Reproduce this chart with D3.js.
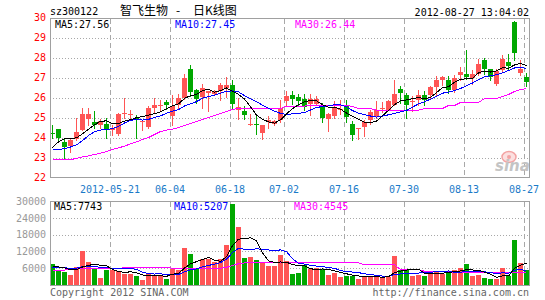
<!DOCTYPE html>
<html><head><meta charset="utf-8">
<script src="https://cdn.jsdelivr.net/npm/d3@7"></script>
<style>
body{margin:0;background:#fff}
svg{display:block}
text{font-family:"DejaVu Sans Mono",monospace;font-size:10px}
</style>
</head><body>
<svg id="c" width="545" height="300"></svg>
<script>
// ---------- data ----------
const dates = [
"2012-05-07","2012-05-08","2012-05-09","2012-05-10","2012-05-11",
"2012-05-14","2012-05-15","2012-05-16","2012-05-17","2012-05-18",
"2012-05-21","2012-05-22","2012-05-23","2012-05-24","2012-05-25",
"2012-05-28","2012-05-29","2012-05-30","2012-05-31","2012-06-01",
"2012-06-04","2012-06-05","2012-06-06","2012-06-07","2012-06-08",
"2012-06-11","2012-06-12","2012-06-13","2012-06-14","2012-06-15",
"2012-06-18","2012-06-19","2012-06-20","2012-06-21",
"2012-06-25","2012-06-26","2012-06-27","2012-06-28","2012-06-29",
"2012-07-02","2012-07-03","2012-07-04","2012-07-05","2012-07-06",
"2012-07-09","2012-07-10","2012-07-11","2012-07-12","2012-07-13",
"2012-07-16","2012-07-17","2012-07-18","2012-07-19","2012-07-20",
"2012-07-23","2012-07-24","2012-07-25","2012-07-26","2012-07-27",
"2012-07-30","2012-07-31","2012-08-01","2012-08-02","2012-08-03",
"2012-08-06","2012-08-07","2012-08-08","2012-08-09","2012-08-10",
"2012-08-13","2012-08-14","2012-08-15","2012-08-16","2012-08-17",
"2012-08-20","2012-08-21","2012-08-22","2012-08-23","2012-08-24",
"2012-08-27"];

const open = [24.22,24.42,23.78,23.58,23.95,24.4,24.93,24.77,24.63,24.67,
24.37,24.2,25.17,25.12,25.0,24.77,24.53,25.5,25.55,25.78,
25.05,25.62,26.0,27.45,26.37,26.03,26.25,26.2,26.3,26.48,
26.62,25.37,25.33,24.63,24.67,24.23,24.78,24.67,24.85,25.82,
26.12,26.03,25.95,25.7,25.68,25.62,24.95,25.05,25.38,25.6,
24.67,24.47,24.53,24.9,25.03,25.48,25.4,25.62,26.45,26.1,
25.77,25.85,26.12,26.12,26.53,26.85,26.87,26.37,27.12,27.17,
27.0,27.2,27.87,27.42,26.7,27.37,27.78,29.78,27.25,27.03];

const high = [24.62,24.45,24.0,23.92,25.0,25.5,25.5,25.33,24.92,25.0,
24.6,25.22,26.0,25.35,25.1,24.8,25.55,26.0,25.9,25.9,
26.1,26.2,27.17,27.6,26.45,26.7,26.3,26.35,26.72,27.03,
26.85,26.0,25.55,25.2,25.1,24.65,25.05,24.9,25.9,26.3,
26.3,26.2,26.17,26.2,26.05,25.75,25.22,25.8,25.85,25.85,
24.83,24.5,24.9,25.37,25.82,25.78,25.9,26.87,26.55,26.22,
26.05,26.35,26.32,26.55,27.07,27.05,27.08,27.12,27.53,28.37,
27.37,27.95,27.98,27.45,27.45,28.1,28.2,29.8,27.9,27.22];

const low = [24.0,23.87,23.0,23.28,23.9,24.35,24.65,24.5,24.5,24.0,
24.15,24.12,25.0,24.95,24.0,24.4,24.5,25.25,25.3,25.45,
24.65,25.5,25.95,26.08,25.75,25.5,25.3,26.1,25.85,26.03,
25.45,24.92,24.95,24.63,24.17,23.95,24.5,24.63,24.78,25.6,
25.7,25.63,25.37,25.1,25.6,24.78,24.33,24.98,25.2,24.78,
23.85,23.92,24.05,24.67,25.0,25.28,25.37,25.6,25.75,25.0,
25.3,25.65,25.65,25.95,26.12,26.62,26.25,26.28,26.9,26.95,
26.7,27.15,27.2,26.87,26.65,27.3,27.37,27.87,27.15,26.58];

const close = [24.2,24.0,23.53,23.9,24.3,25.17,25.17,24.62,24.83,24.35,
24.5,25.2,25.22,25.17,24.87,24.8,25.5,25.62,25.6,25.63,
25.55,26.0,27.0,26.28,25.95,26.5,26.3,26.3,26.65,26.62,
25.67,25.53,25.15,24.67,24.6,24.62,24.87,24.83,25.5,26.08,
25.95,25.83,25.53,25.92,25.93,25.0,25.2,25.5,25.42,25.02,
24.12,24.5,24.78,25.28,25.4,25.5,25.83,26.2,26.23,25.65,
25.8,26.12,25.9,26.53,26.87,27.03,26.37,26.98,27.28,27.02,
27.17,27.7,27.45,27.03,27.32,27.95,27.58,28.25,27.42,26.78];

const volume = [7545,5200,4650,3593,6450,12216,8383,5850,2635,5390,
5390,4970,3900,4000,3234,1797,4200,3600,3593,2200,
5700,5500,13300,11138,6100,9280,9400,8260,9280,14372,
29103,20840,9700,10060,8982,7785,6760,6827,10779,8400,
3952,4192,7186,5629,5988,5629,3593,4431,2994,3353,
3353,2156,2754,2754,3593,2754,2754,10420,5390,5390,
3353,3593,3353,5150,5150,3952,4431,5390,6228,7545,
3300,3700,2395,2156,2156,6000,3353,16200,7785,5390];

// closes / volumes of the 9 sessions before the window (estimated from MA lines)
const priorClose = [23.6,23.3,23.0,23.2,23.1,22.6,22.7,24.0,24.0];
const priorVolume = [5800,6000,5500,6100,5945,7000,6500,6800,6290];

// 30-day averages
const ma30 = [22.9,22.9,22.9,22.9,22.95,23.03,23.08,23.15,23.22,23.3,
23.4,23.48,23.57,23.68,23.78,23.9,24.0,24.15,24.3,24.37,
24.42,24.5,24.6,24.7,24.8,24.9,25.0,25.1,25.2,25.3,
25.4,25.45,25.45,25.45,25.45,25.45,25.45,25.45,25.45,25.57,
25.57,25.57,25.57,25.62,25.62,25.62,25.62,25.62,25.62,25.62,
25.55,25.45,25.45,25.45,25.37,25.37,25.37,25.37,25.37,25.37,
25.37,25.37,25.45,25.45,25.45,25.45,25.6,25.6,25.75,25.75,
25.75,25.75,25.95,25.95,25.95,26.05,26.15,26.3,26.4,26.44];

const volMa30 = [5300,5300,5300,5750,5750,5750,5750,5750,5750,5750,
5750,5750,6300,6300,6300,6300,6300,6300,6300,6300,
6000,6000,6000,6000,6000,6000,6000,6000,6000,6300,
7000,7600,7900,7900,7900,7900,7900,7900,7900,7900,
7900,7900,7900,7900,7900,7900,7900,7900,7900,7900,
7900,7900,7200,7200,7200,7200,7200,7200,5500,5500,
5500,5500,4900,4900,4900,4900,4900,4500,4500,4500,
4500,4500,4500,4500,4500,4500,4500,4550,4550,4545];

const priceTicks = [22,23,24,25,26,27,28,29,30];
const volTicks = [6000,12000,18000,24000,30000];
const tickDates = ["2012-05-21","2012-06-04","2012-06-18","2012-07-02","2012-07-16","2012-07-30","2012-08-13","2012-08-27"];
const tickLabels = ["2012-05-21","06-04","06-18","07-02","07-16","07-30","08-13","08-27"];
const priceLegend = ["MA5:27.56","MA10:27.45","MA30:26.44"];
const volLegend = ["MA5:7743","MA10:5207","MA30:4545"];
const titleParts = ["智飞生物","-","日K线图"];
const symbol = "sz300122";
const stamp = "2012-08-27 13:04:02";

// ---------- helpers ----------
function movingAvg(prior, vals, n){
  const all = prior.concat(vals);
  return vals.map((_, i) => {
    const end = i + prior.length;
    return d3.mean(all.slice(Math.max(0, end - n + 1), end + 1));
  });
}
const ma5 = movingAvg(priorClose, close, 5);
const ma10 = movingAvg(priorClose, close, 10);
const vma5 = movingAvg(priorVolume, volume, 5);
const vma10 = movingAvg(priorVolume, volume, 10);

const RED = "#ff5555", GREEN = "#00a800", GRID = "#a8a8a8", FRAME = "#a0a0a0";

const svg = d3.select("#c");
svg.append("rect").attr("width",545).attr("height",300).attr("fill","#fff");

const L = 50, R = 529;
const xs = d3.scaleBand().domain(dates).range([L, R]).paddingInner(1/6).paddingOuter(0);
const bw = xs.bandwidth();
const yP = d3.scaleLinear().domain([22,30]).range([177.5,17.5]);
const yV = d3.scaleLinear().domain([0,30000]).range([285,201]);

const panels = [
  {top:18.5, bottom:177.5},
  {top:201.5, bottom:285.5}
];

// grid
const g = svg.append("g").attr("shape-rendering","crispEdges");
g.selectAll(".hp").data(priceTicks.filter(t => t>22 && t<30)).join("line")
  .attr("x1",L).attr("x2",R).attr("y1",d=>Math.round(yP(d))+0.5).attr("y2",d=>Math.round(yP(d))+0.5)
  .attr("stroke",GRID).attr("stroke-dasharray","1,2");
g.selectAll(".hv").data(volTicks.filter(t => t<30000)).join("line")
  .attr("x1",L).attr("x2",R).attr("y1",d=>Math.round(yV(d))+0.5).attr("y2",d=>Math.round(yV(d))+0.5)
  .attr("stroke",GRID).attr("stroke-dasharray","1,2");
panels.forEach(p => {
  g.append("g").selectAll("line").data(tickDates).join("line")
    .attr("x1",d=>xs(d)+0.5).attr("x2",d=>xs(d)+0.5)
    .attr("y1",p.top).attr("y2",p.bottom)
    .attr("stroke",GRID).attr("stroke-dasharray","5,3");
});

// watermark (sina logo)
const wm = svg.append("g");
wm.append("ellipse").attr("cx",509).attr("cy",157).attr("rx",7).attr("ry",5.5)
  .attr("fill","#fbe0e0").attr("stroke","#f3a3a3").attr("stroke-width",1.5);
wm.append("circle").attr("cx",509).attr("cy",157).attr("r",2).attr("fill","#f3a3a3");
wm.append("text").attr("x",495).attr("y",171).text("sina")
  .style("font-family","DejaVu Sans").style("font-size","15px").style("font-weight","bold")
  .style("font-style","italic").attr("fill","#c4c4c4");

// candles
const idx = d3.range(dates.length);
const cg = svg.append("g").attr("shape-rendering","crispEdges");
const col = i => close[i] >= open[i] ? RED : GREEN;
cg.selectAll(".wick").data(idx).join("line")
  .attr("x1",i=>xs(dates[i])+2.5).attr("x2",i=>xs(dates[i])+2.5)
  .attr("y1",i=>Math.round(yP(high[i]))).attr("y2",i=>Math.round(yP(low[i]))+1)
  .attr("stroke",col);
cg.selectAll(".body").data(idx).join("rect")
  .attr("x",i=>xs(dates[i])).attr("width",bw)
  .attr("y",i=>Math.round(yP(Math.max(open[i],close[i]))))
  .attr("height",i=>Math.max(1, Math.round(yP(Math.min(open[i],close[i]))) - Math.round(yP(Math.max(open[i],close[i])))))
  .attr("fill",col);

// volume bars
cg.selectAll(".vol").data(idx).join("rect")
  .attr("x",i=>xs(dates[i])).attr("width",bw)
  .attr("y",i=>Math.round(yV(volume[i])))
  .attr("height",i=>285 - Math.round(yV(volume[i])) + 1)
  .attr("fill",col);

// MA lines (aliased, like the original bitmap chart)
const cx = i => xs(dates[i]) + 2.5;
function drawLine(vals, yScale, color){
  svg.append("path").datum(idx)
    .attr("d", d3.line().x(cx).y(i => yScale(vals[i])))
    .attr("fill","none").attr("stroke",color).attr("stroke-width",1)
    .attr("shape-rendering","crispEdges");
}
drawLine(ma30, yP, "#ff00ff");
drawLine(ma10, yP, "#0000ff");
drawLine(ma5, yP, "#000000");
drawLine(volMa30, yV, "#ff00ff");
drawLine(vma10, yV, "#0000ff");
drawLine(vma5, yV, "#000000");

// frames
panels.forEach(p => {
  svg.append("rect").attr("x",L+0.5).attr("y",p.top).attr("width",R-L).attr("height",p.bottom-p.top)
    .attr("fill","none").attr("stroke",FRAME).attr("shape-rendering","crispEdges");
});

// legends
const legCols = ["#000000","#0000ff","#ff00ff"];
const legX = [55,175,295];
priceLegend.forEach((t,i)=> svg.append("text").attr("x",legX[i]).attr("y",27.5).attr("fill",legCols[i]).text(t));
volLegend.forEach((t,i)=> svg.append("text").attr("x",legX[i]-1).attr("y",210).attr("fill",legCols[i]).text(t));

// axes
const ax1 = svg.append("g").attr("transform","translate(50,0)")
  .call(d3.axisLeft(yP).tickValues(priceTicks).tickSize(0).tickPadding(4).tickFormat(d3.format("d")));
ax1.select(".domain").remove();
ax1.selectAll("text").attr("fill","#ff0000").style("font-family","DejaVu Sans Mono").style("font-size","10px");

const ax2 = svg.append("g").attr("transform","translate(50,0)")
  .call(d3.axisLeft(yV).tickValues(volTicks).tickSize(0).tickPadding(4).tickFormat(d3.format("d")));
ax2.select(".domain").remove();
ax2.selectAll("text").attr("fill","#999999").style("font-family","DejaVu Sans Mono").style("font-size","10px");

const ax3 = svg.append("g").attr("transform","translate(-2.5,177)")
  .call(d3.axisBottom(xs).tickValues(tickDates).tickSize(0).tickPadding(9).tickFormat((d,i)=>tickLabels[i]));
ax3.select(".domain").remove();
ax3.selectAll("text").attr("fill","#1a7ac8").style("font-family","DejaVu Sans Mono").style("font-size","10px");

// header
svg.append("text").attr("x",50).attr("y",15).attr("fill","#000").text(symbol);
const tt = svg.append("text").attr("y",14.5).attr("fill","#000")
  .style("font-family","'Noto Sans CJK SC'").style("font-size","12px");
const tx = [120,176,193];
titleParts.forEach((t,i)=> tt.append("tspan").attr("x",tx[i]).text(t));
svg.append("text").attr("x",529).attr("y",16).attr("text-anchor","end").attr("fill","#000").text(stamp);

// footer
svg.append("text").attr("x",50).attr("y",295.5).attr("fill","#666").text("Copyright 2012 SINA.COM");
svg.append("text").attr("x",529).attr("y",295.5).attr("text-anchor","end").attr("fill","#666").text("http://finance.sina.com.cn");
</script>
</body></html>
